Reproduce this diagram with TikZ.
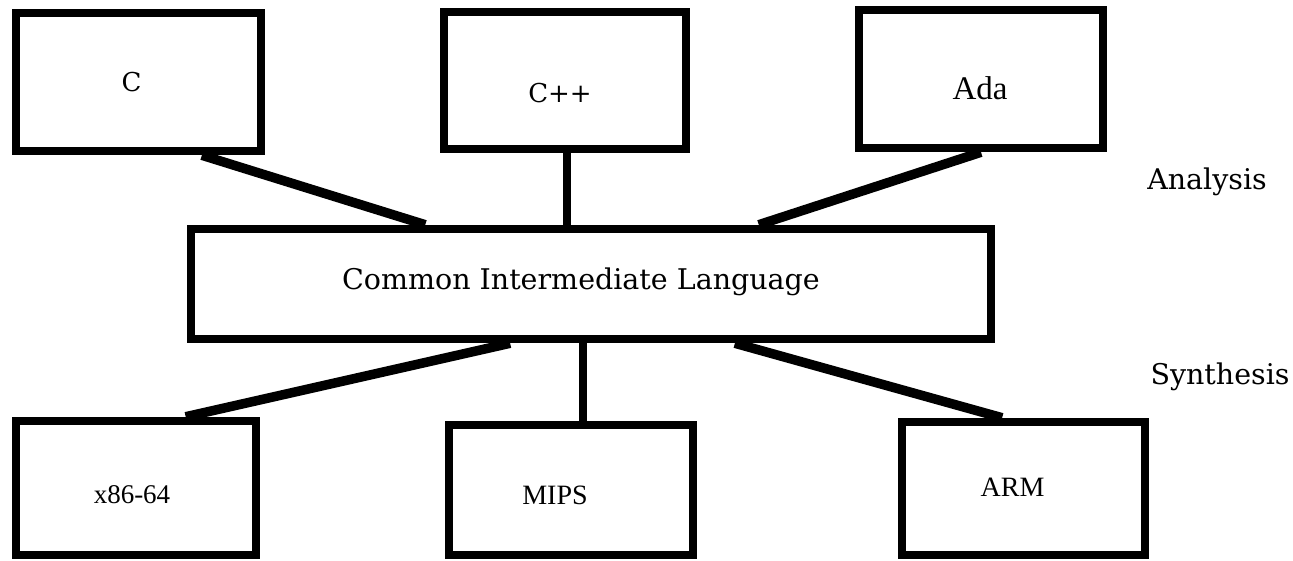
\documentclass[tikz,border=0pt]{standalone}
\usepackage{fontspec}
\setmainfont{Liberation Serif}
\newfontfamily\dvs{DejaVu Serif}
\usetikzlibrary{calc}
\tikzset{
  box/.style={draw=black, line width=8.5pt, rectangle, inner sep=0pt, fill=white},
  conn/.style={draw=black, line width=9.5pt},
  lbl/.style={inner sep=0pt, font=\fontsize{28}{28}\selectfont},
  lbld/.style={inner sep=0pt, font=\dvs\fontsize{26}{26}\selectfont},
  lblw/.style={inner sep=0pt, font=\dvs\fontsize{28.5}{28.5}\selectfont},
}
\begin{document}
\begin{tikzpicture}[x=1pt,y=-1pt]
\useasboundingbox[fill=white] (0,0) rectangle (1293,561);
% boxes
\node[box, minimum width=245pt, minimum height=138pt] (C) at (138.5,82) {};
\node[box, minimum width=242pt, minimum height=137pt] (CPP) at (565,80.5) {};
\node[box, minimum width=244pt, minimum height=138pt] (ADA) at (981,79) {};
\node[box, minimum width=800pt, minimum height=110pt] (CIL) at (591,284) {};
\node[box, minimum width=240pt, minimum height=134pt] (X86) at (136,488) {};
\node[box, minimum width=244pt, minimum height=130pt] (MIPS) at (571,490) {};
\node[box, minimum width=243pt, minimum height=133pt] (ARM) at (1023.5,488.5) {};
% connectors
\draw[conn] ($(C.south west)!0.75!(C.south east)$) -- ($(CIL.north west)!0.295!(CIL.north east)$);
\draw[conn, line width=8pt] (CPP.south) ++(2,0) coordinate (cppb) -- (cppb |- CIL.north);
\draw[conn] (ADA.south) -- ($(CIL.north west)!0.7075!(CIL.north east)$);
\draw[conn] ($(CIL.south west)!0.40!(CIL.south east)$) -- ($(X86.north west)!0.70!(X86.north east)$);
\draw[conn, line width=8pt] ($(CIL.south west)!0.49!(CIL.south east)$) coordinate (mipst) -- (mipst |- MIPS.north);
\draw[conn] ($(CIL.south west)!0.678!(CIL.south east)$) -- ($(ARM.north west)!0.415!(ARM.north east)$);
% texts
\node[lbld] (Ct) at ($(C)+(-7,0)$) {C};
\node[lbld] (CPPt) at ($(CPP)+(-5,13)$) {C++};
\node[lbl, font=\fontsize{33}{33}\selectfont] (ADAt) at ($(ADA)+(-1,9)$) {Ada};
\node[lblw] (CILt) at ($(CIL)+(-10,-2)$) {Common Intermediate Language};
\node[lbl, font=\fontsize{27}{27}\selectfont] (X86t) at ($(X86)+(-4,7)$) {x86-64};
\node[lbl] (MIPSt) at ($(MIPS)+(-16,5)$) {MIPS};
\node[lbl] (ARMt) at ($(ARM)+(-11,-1)$) {ARM};
\node[lblw] (AN) at (1207,182) {Analysis};
\node[lblw] (SY) at (1220,377) {Synthesis};
\end{tikzpicture}
\end{document}
